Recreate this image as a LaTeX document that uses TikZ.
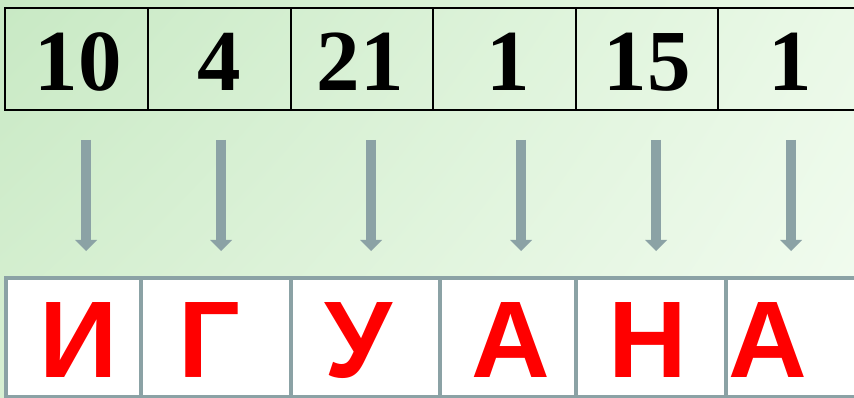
\documentclass[tikz,border=0pt]{standalone}
\usepackage{fontspec}
\newfontfamily\letfont{Liberation Sans}
\newfontfamily\numfont{Liberation Serif}
\usetikzlibrary{arrows.meta,shadings}
\definecolor{arrgray}{RGB}{139,162,165}
\definecolor{bgul}{RGB}{200,233,196}
\definecolor{bgur}{RGB}{234,249,231}
\definecolor{bgll}{RGB}{216,240,211}
\definecolor{bglr}{RGB}{243,252,241}
\tikzset{
  numcell/.style={draw=black, line width=1.8pt, inner sep=0pt, minimum height=102pt},
  letcell/.style={draw=arrgray, fill=white, line width=4.6pt, inner sep=0pt, minimum height=119pt},
  numtext/.style={font=\numfont\bfseries\fontsize{87}{87}\selectfont, inner sep=0pt, anchor=base},
  lettext/.style={font=\letfont\bfseries\fontsize{109}{109}\selectfont, text=red, inner sep=0pt, anchor=base},
  arr/.style={draw=arrgray, line width=10pt, -{Triangle[width=22pt,length=11pt,line width=0pt]}}
}
\begin{document}
\begin{tikzpicture}[x=1pt,y=-1pt]
\useasboundingbox (0,0) rectangle (854,398);
\clip (0,0) rectangle (854,398);
\shade[upper left=bgul, upper right=bgur, lower left=bgll, lower right=bglr] (0,0) rectangle (854,398);
% top cells
\node[numcell, minimum width=143pt] (c1) at (76.5,59) {};
\node[numcell, minimum width=143pt] (c2) at (219.5,59) {};
\node[numcell, minimum width=142pt] (c3) at (362,59) {};
\node[numcell, minimum width=143pt] (c4) at (504.5,59) {};
\node[numcell, minimum width=142pt] (c5) at (647,59) {};
\node[numcell, minimum width=143pt] (c6) at (789.5,59) {};
\node[numtext] (n1) at (78,91) {10};
\node[numtext] (n2) at (219,91) {4};
\node[numtext] (n3) at (360,91) {21};
\node[numtext] (n4) at (508,91) {1};
\node[numtext] (n5) at (647,91) {15};
\node[numtext] (n6) at (790,91) {1};
% bottom cells
\node[letcell, minimum width=135pt] (d1) at (73.5,337.5) {};
\node[letcell, minimum width=150pt] (d2) at (216,337.5) {};
\node[letcell, minimum width=149pt] (d3) at (365.5,337.5) {};
\node[letcell, minimum width=136pt] (d4) at (508,337.5) {};
\node[letcell, minimum width=150pt] (d5) at (651,337.5) {};
\node[letcell, minimum width=144pt] (d6) at (798,337.5) {};
\node[lettext] (l1) at (79,377) {И};
\node[lettext] (l2) at (209,377) {Г};
\node[lettext] (l3) at (358,377) {У};
\node[lettext] (l4) at (511,377) {А};
\node[lettext] (l5) at (648,377) {Н};
\node[lettext] (l6) at (768,377) {А};
% arrows
\foreach \i/\x in {1/86,2/221,3/371,4/521,5/656,6/791}{
  \coordinate (a\i) at (\x,140);
  \coordinate (b\i) at (\x,251);
  \draw[arr] (a\i) -- (b\i);
}
\end{tikzpicture}
\end{document}
